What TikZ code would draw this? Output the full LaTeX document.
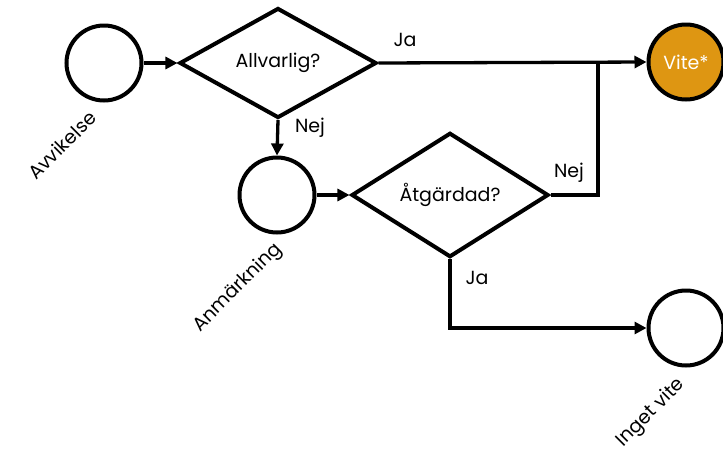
\documentclass[tikz,border=0pt]{standalone}
\usepackage{fontspec}
\setmainfont{Poppins}
\usetikzlibrary{shapes.geometric,arrows.meta}
\definecolor{viteorange}{RGB}{222,150,18}
\begin{document}
\begin{tikzpicture}[x=1pt,y=-1pt,
  every node/.style={font=\fontsize{19}{22}\selectfont},
  state/.style={draw,circle,line width=4pt,minimum size=75pt,inner sep=0pt},
  decision/.style={draw,diamond,line width=4pt,minimum width=197pt,minimum height=110pt,inner sep=0pt},
  conn/.style={line width=3.3pt},
  arr/.style={conn,-{Triangle[length=12pt,width=12pt]}},
  lbl/.style={inner sep=1pt},
  rlbl/.style={rotate=45,inner sep=1pt}]
\useasboundingbox (0,0) rectangle (723,451);
\node[state] (c1) at (104,63) {};
\node[decision] (d1) at (278,63) {Allvarlig?};
\node[state] (c2) at (277,195) {};
\node[decision] (d2) at (450,195) {Åtgärdad?};
\node[state,fill=viteorange,text=white] (c3) at (686,62) {Vite*};
\node[state] (c4) at (686,328) {};
\coordinate (j) at (598,63);
\draw[arr] (c1) -- (d1);
\draw[arr] (d1.south) -- (c2.north);
\draw[arr] (c2) -- (d2);
\draw[arr] (d1.east) -- (c3.west);
\draw[conn] (d2.east) -| (j);
\draw[arr] (d2.south) |- (c4.west);
\node[lbl] (ja1) at (405,40) {Ja};
\node[lbl] (nej1) at (310,128) {Nej};
\node[lbl] (nej2) at (569,173) {Nej};
\node[lbl] (ja2) at (477,278) {Ja};
\node[rlbl] (l1) at (62,145) {Avvikelse};
\node[rlbl] (l2) at (238,288) {Anmärkning};
\node[rlbl] (l4) at (651,413) {Inget vite};
\end{tikzpicture}
\end{document}
